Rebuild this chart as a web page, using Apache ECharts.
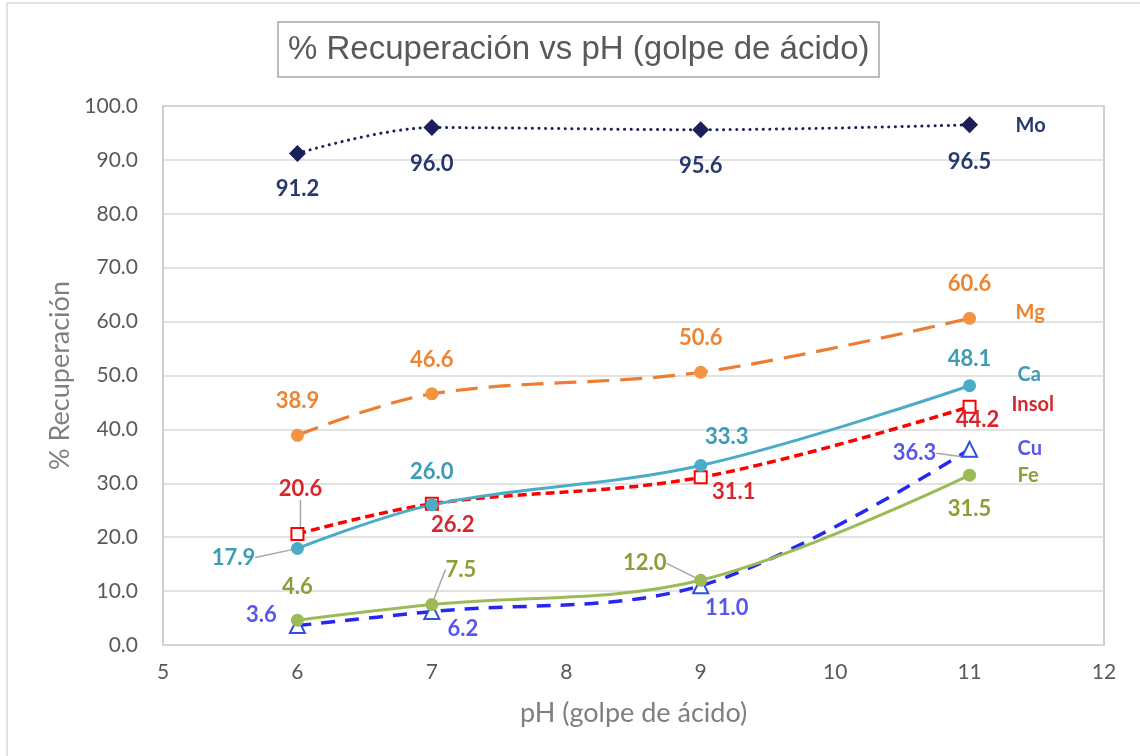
<!DOCTYPE html>
<html>
<head>
<meta charset="utf-8">
<script src="https://cdn.jsdelivr.net/npm/echarts@6/dist/echarts.min.js"></script>
<style>
html,body{margin:0;padding:0;background:#fff;}
#chart{width:1140px;height:756px;}
</style>
</head>
<body>
<div id="chart"></div>
<script>
// ---- Data ----
const phValues = [6, 7, 9, 11];
const seriesNames = ['Mo', 'Mg', 'Insol', 'Ca', 'Cu', 'Fe'];
const moValues = [91.2, 96.0, 95.6, 96.5];
const mgValues = [38.9, 46.6, 50.6, 60.6];
const caValues = [17.9, 26.0, 33.3, 48.1];
const insolValues = [20.6, 26.2, 31.1, 44.2];
const cuValues = [3.6, 6.2, 11.0, 36.3];
const feValues = [4.6, 7.5, 12.0, 31.5];
const xTicks = [5, 6, 7, 8, 9, 10, 11, 12];
const chartTitle = '% Recuperación vs pH (golpe de ácido)';
const xAxisTitle = 'pH (golpe de ácido)';
const yAxisTitle = '% Recuperación';

// ---- Styles (label placement relative to marker) ----
const labelOffsets = {
  Mo:    [[0, 35], [0, 36], [0, 36], [0, 37]],
  Mg:    [[0, -34], [0, -34], [0, -34], [0, -34]],
  Ca:    [[-64, 9], [0, -33], [26, -29], [0, -27]],
  Insol: [[3, -45], [21, 21], [33, 15], [8, 13]],
  Cu:    [[-36, -11], [31, 17], [26, 22], [-55, 4]],
  Fe:    [[0, -33], [29, -35], [-56, -17], [0, 34]]
};
const leaderLines = {
  Mo: [], Mg: [], Ca: [0], Insol: [0], Cu: [3], Fe: [1, 2]
};
const endOffsets = {
  Mo: [46, 1], Mg: [46, -6], Ca: [48, -11], Insol: [42, -2], Cu: [48, -1], Fe: [48, 0]
};
const styles = {
  Mo:    {line: '#1B1F5C', label: '#27386E', symbol: 'diamond', size: 17, fill: '#1B1F5C', border: '#1B1F5C', type: [0.1, 6.5], width: 3, cap: 'round'},
  Mg:    {line: '#ED7D31', label: '#EE8432', symbol: 'circle', size: 13, fill: '#F39443', border: '#F39443', type: [22, 11], width: 3.2, cap: 'butt'},
  Insol: {line: '#FF0000', label: '#D8262C', symbol: 'rect', size: 12, fill: '#FFFFFF', border: '#FF0000', type: [9, 5], width: 3.5, cap: 'butt'},
  Ca:    {line: '#4BACC6', label: '#3B9CB6', symbol: 'circle', size: 13, fill: '#4BACC6', border: '#4BACC6', type: 'solid', width: 3, cap: 'butt'},
  Cu:    {line: '#2727F5', label: '#5757F0', symbol: 'triangle', size: 15, fill: '#FFFFFF', border: '#2E50E0', type: [14, 10], width: 3.5, cap: 'butt'},
  Fe:    {line: '#9BBB59', label: '#8A9F35', symbol: 'circle', size: 13, fill: '#9BBB59', border: '#9BBB59', type: 'solid', width: 3, cap: 'butt'}
};
const valuesByName = {Mo: moValues, Mg: mgValues, Ca: caValues, Insol: insolValues, Cu: cuValues, Fe: feValues};

const chart = echarts.init(document.getElementById('chart'), null, {renderer: 'canvas'});

const series = seriesNames.map(function (name) {
  const st = styles[name];
  const vals = valuesByName[name];
  const offs = labelOffsets[name];
  return {
    name: name,
    type: 'line',
    smooth: 0.35,
    symbol: st.symbol,
    symbolSize: st.size,
    showAllSymbol: true,
    lineStyle: {color: st.line, width: st.width, type: st.type, cap: st.cap},
    itemStyle: {color: st.fill, borderColor: st.border, borderWidth: st.fill === '#FFFFFF' ? 2 : 0},
    label: {
      show: true,
      position: 'inside',
      color: st.label,
      fontFamily: 'Lato',
      fontWeight: 'bold',
      fontSize: 22,
      formatter: function (p) { return p.value[1].toFixed(1); }
    },
    labelLine: {show: false, lineStyle: {color: '#A6A6A6', width: 1.5}},
    labelLayout: function (params) {
      if (params.dataIndex == null || !offs[params.dataIndex]) { return {}; }
      const off = offs[params.dataIndex];
      return {dx: off[0], dy: off[1]};
    },
    endLabel: {
      show: true,
      formatter: '{a}',
      distance: 0,
      offset: endOffsets[name],
      color: st.label,
      fontFamily: 'Lato',
      fontWeight: 'bold',
      fontSize: 20,
      align: 'left',
      verticalAlign: 'middle'
    },
    data: phValues.map(function (x, i) {
      const item = {value: [x, vals[i]]};
      if (leaderLines[name].indexOf(i) >= 0) {
        item.labelLine = {show: true, smooth: false, length2: 0};
      }
      return item;
    })
  };
});

const option = {
  animation: false,
  backgroundColor: '#ffffff',
  title: {
    text: chartTitle,
    left: 278,
    top: 22,
    padding: [11, 10, 11, 10],
    borderColor: '#A6A6A6',
    borderWidth: 1.5,
    textStyle: {fontFamily: 'Liberation Sans', fontWeight: 'normal', fontSize: 33, color: '#595959'}
  },
  graphic: [{
    type: 'rect',
    shape: {x: 7, y: 3, width: 1160, height: 800},
    style: {fill: 'none', stroke: '#D9D9D9', lineWidth: 1.5},
    silent: true
  }],
  grid: {
    left: 163, right: 36, top: 106, bottom: 111,
    show: true, borderColor: '#BFBFBF', borderWidth: 1.5, backgroundColor: 'transparent'
  },
  xAxis: {
    type: 'value',
    min: xTicks[0],
    max: xTicks[xTicks.length - 1],
    interval: 1,
    name: xAxisTitle,
    nameLocation: 'middle',
    nameGap: 55,
    nameTextStyle: {fontFamily: 'Lato', fontSize: 27, color: '#7F7F7F'},
    axisLine: {show: false},
    axisTick: {show: false},
    splitLine: {show: false},
    axisLabel: {fontFamily: 'Lato', fontSize: 21, color: '#595959', margin: 17}
  },
  yAxis: {
    type: 'value',
    min: 0,
    max: 100,
    interval: 10,
    name: yAxisTitle,
    nameLocation: 'middle',
    nameGap: 87,
    nameRotate: 90,
    nameTextStyle: {fontFamily: 'Lato', fontSize: 27, color: '#7F7F7F'},
    axisLine: {show: false},
    axisTick: {show: false},
    splitLine: {lineStyle: {color: '#D9D9D9', width: 1.5}},
    axisLabel: {fontFamily: 'Lato', fontSize: 21, color: '#595959', margin: 25,
      formatter: function (v) { return v.toFixed(1); }}
  },
  series: series
};

chart.setOption(option);
</script>
</body>
</html>
